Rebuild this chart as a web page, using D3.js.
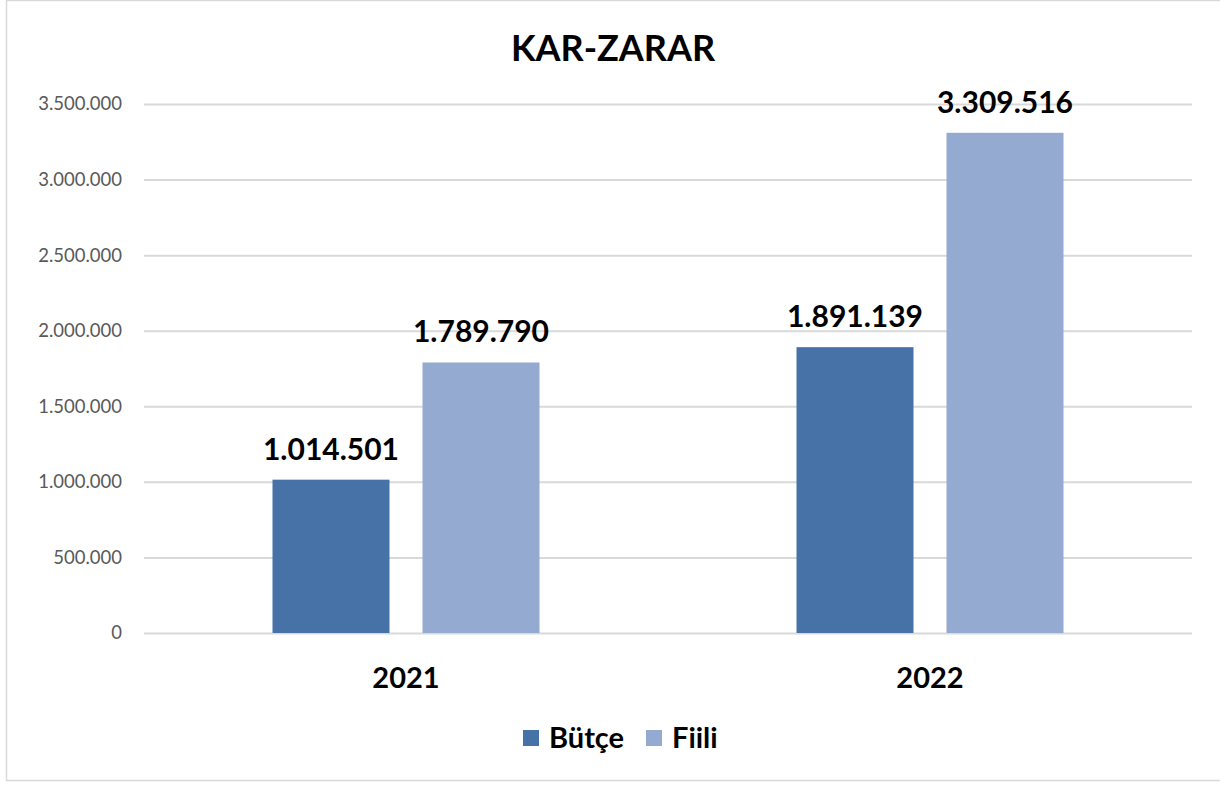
<!DOCTYPE html>
<html><head><meta charset="utf-8">
<script src="https://cdn.jsdelivr.net/npm/d3@7"></script>
<style>body{margin:0;background:#fff;font-family:Lato,"Open Sans",sans-serif;}</style>
</head><body><svg id="c" width="1220" height="786"></svg>
<script>
const categories = ["2021", "2022"];
const seriesNames = ["Bütçe", "Fiili"];
const butce = [1014501, 1891139];
const fiili = [1789790, 3309516];
const yTicks = [0, 500000, 1000000, 1500000, 2000000, 2500000, 3000000, 3500000];
const colors = ["#4672A7", "#95AAD1"];
const title = "KAR-ZARAR";

(function(){
const svg = d3.select("#c");
svg.append("rect").attr("x",6.5).attr("y",0.5).attr("width",1230).attr("height",780)
  .attr("fill","#fff").attr("stroke","#d9d9d9").attr("stroke-width",1.5);

const pL=144, pR=1192, pT=104, pB=633;
const y = d3.scaleLinear().domain([0,3500000]).range([pB,pT]);
const x0 = d3.scaleBand().domain(categories).range([pL,pR]).paddingInner(0).paddingOuter(0);
const x1 = d3.scaleBand().domain(seriesNames).range([128.5, 524-128.5]).paddingInner(33/150).paddingOuter(0);
const fmt = v => d3.format(",")(v).replace(/,/g,".");

const g = svg.append("g");
g.append("g").attr("transform",`translate(${pL},0)`)
  .call(d3.axisLeft(y).tickValues(yTicks).tickSize(-(pR-pL)).tickFormat(fmt).tickPadding(22))
  .call(a=>a.select(".domain").remove())
  .call(a=>a.selectAll(".tick line").attr("stroke","#d9d9d9").attr("stroke-width",2))
  .call(a=>a.selectAll(".tick text").attr("fill","#595959").attr("font-size",18.5).attr("font-family","Lato,'Open Sans',sans-serif"));

g.append("g").attr("transform",`translate(0,${pB})`)
  .call(d3.axisBottom(x0).tickSize(0).tickPadding(34))
  .call(a=>a.select(".domain").remove())
  .call(a=>a.selectAll(".tick text").attr("fill","#000").attr("font-size",29).attr("font-weight","bold").attr("font-family","Lato,'Open Sans',sans-serif"));

const data = categories.map((c,i)=>({cat:c, vals:[butce[i], fiili[i]]}));
const grp = g.selectAll(".grp").data(data).join("g").attr("transform",d=>`translate(${x0(d.cat)},0)`);
grp.selectAll("rect").data(d=>d.vals.map((v,j)=>({s:seriesNames[j],v,j}))).join("rect")
  .attr("x",d=>x1(d.s)).attr("width",x1.bandwidth())
  .attr("y",d=>y(d.v)).attr("height",d=>pB-y(d.v)).attr("fill",d=>colors[d.j]);
grp.selectAll("text.lbl").data(d=>d.vals.map((v,j)=>({s:seriesNames[j],v,j}))).join("text")
  .attr("class","lbl").attr("x",d=>x1(d.s)+x1.bandwidth()/2).attr("y",d=>y(d.v)-20)
  .attr("text-anchor","middle").attr("font-size",30).attr("font-weight","bold").attr("fill","#000")
  .text(d=>fmt(d.v));

svg.append("text").attr("x",613).attr("y",61).attr("text-anchor","middle")
  .attr("font-size",36).attr("font-weight","bold").attr("fill","#000").text(title);

const leg = svg.append("g").attr("transform","translate(523,730)");
const items = [{n:"Bütçe",x:0},{n:"Fiili",x:123}];
items.forEach((it,i)=>{
  leg.append("rect").attr("x",it.x).attr("y",0).attr("width",16).attr("height",16).attr("fill",colors[i]);
  leg.append("text").attr("x",it.x+26).attr("y",18).attr("font-size",29).attr("font-weight","bold").attr("fill","#000").text(it.n);
});
})();
</script></body></html>
